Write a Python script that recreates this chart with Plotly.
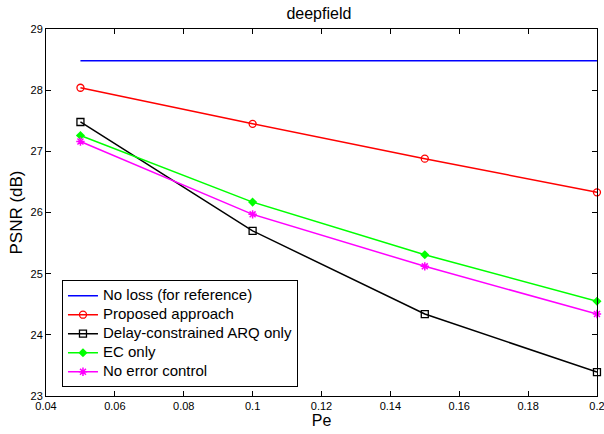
import plotly.graph_objects as go

pe = [0.05, 0.1, 0.15, 0.2]
no_loss = [28.48, 28.48, 28.48, 28.48]
proposed = [28.04, 27.45, 26.88, 26.33]
arq_only = [27.48, 25.70, 24.34, 23.39]
ec_only = [27.26, 26.17, 25.31, 24.55]
no_ec = [27.16, 25.97, 25.12, 24.34]

series_names = ["No loss (for reference)", "Proposed approach", "Delay-constrained ARQ only",
                "EC only", "No error control"]

x_ticks = [0.04, 0.06, 0.08, 0.1, 0.12, 0.14, 0.16, 0.18, 0.2]
x_labels = ["0.04", "0.06", "0.08", "0.1", "0.12", "0.14", "0.16", "0.18", "0.2"]
y_ticks = [23, 24, 25, 26, 27, 28, 29]


def lg(name):
    return "<span style='font-size:15px'>" + name + "</span>"


fig = go.Figure()
fig.add_trace(go.Scatter(x=pe, y=no_loss, mode="lines", name=lg(series_names[0]),
                         line=dict(color="#0000ff", width=1.5), cliponaxis=False))
fig.add_trace(go.Scatter(x=pe, y=proposed, mode="lines+markers", name=lg(series_names[1]),
                         line=dict(color="#ff0000", width=1.5), cliponaxis=False,
                         marker=dict(symbol="circle-open", size=7, color="#ff0000", line=dict(width=1.3))))
fig.add_trace(go.Scatter(x=pe, y=arq_only, mode="lines+markers", name=lg(series_names[2]),
                         line=dict(color="#000000", width=1.5), cliponaxis=False,
                         marker=dict(symbol="square-open", size=7, color="#000000", line=dict(width=1.3))))
fig.add_trace(go.Scatter(x=pe, y=ec_only, mode="lines+markers", name=lg(series_names[3]),
                         line=dict(color="#00ff00", width=1.5), cliponaxis=False,
                         marker=dict(symbol="diamond", size=7, color="#00ff00")))
fig.add_trace(go.Scatter(x=pe, y=no_ec, mode="lines+markers", name=lg(series_names[4]),
                         line=dict(color="#ff00ff", width=1.5), cliponaxis=False,
                         marker=dict(symbol="asterisk-open", size=7, color="#ff00ff", line=dict(width=1.5, color="#ff00ff"))))

fig.update_layout(
    width=604, height=434,
    margin=dict(l=46, r=7, t=29, b=38, autoexpand=False),
    paper_bgcolor="white", plot_bgcolor="white",
    font=dict(family="Liberation Sans, Arial, sans-serif", color="black", size=11),
    title=dict(text="deepfield", x=0.528, xanchor="center", y=0.97, yanchor="middle",
               font=dict(size=16)),
    showlegend=True,
    legend=dict(x=0.029, y=0.024, xanchor="left", yanchor="bottom",
                bgcolor="white", bordercolor="black", borderwidth=1,
                font=dict(size=12), tracegroupgap=0, itemwidth=30),
    xaxis=dict(range=[0.04, 0.20001], tickvals=x_ticks, ticktext=x_labels, automargin=False,
               ticklabeloverflow="allow",
               ticks="inside", ticklen=5, tickcolor="black", showline=True, linecolor="black",
               linewidth=1, mirror="ticks", showgrid=False, zeroline=False,
               title=dict(text="Pe", font=dict(size=16), standoff=0)),
    yaxis=dict(range=[23, 29.0001], tickvals=y_ticks, automargin=False,
               ticklabeloverflow="allow",
               ticks="inside", ticklen=5, tickcolor="black", showline=True, linecolor="black",
               linewidth=1, mirror="ticks", showgrid=False, zeroline=False,
               title=dict(text="PSNR (dB)", font=dict(size=17), standoff=3)),
)

fig.write_html("out.html", config={"displayModeBar": False},
               post_script="document.body.style.margin='0';document.body.style.overflow='hidden';")
